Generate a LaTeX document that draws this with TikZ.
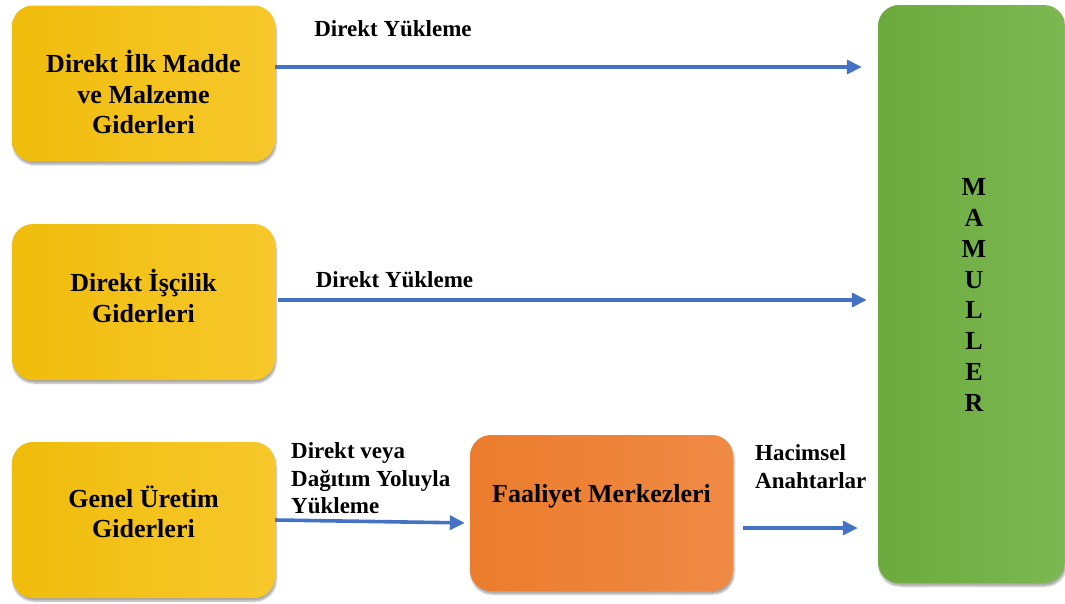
\documentclass[tikz,border=0pt]{standalone}
\usepackage{fontspec}
\setmainfont{Liberation Serif}
\usetikzlibrary{shadows.blur,arrows.meta}
\definecolor{arrowblue}{HTML}{4472C4}
\definecolor{yA}{HTML}{D6A400}
\definecolor{yB}{HTML}{EDB900}
\definecolor{yC}{HTML}{F8C930}
\definecolor{yD}{HTML}{FFEE80}
\definecolor{oA}{HTML}{DC6A18}
\definecolor{oB}{HTML}{EA7724}
\definecolor{oC}{HTML}{F08C48}
\definecolor{oD}{HTML}{F8C696}
\definecolor{gA}{HTML}{5A982A}
\definecolor{gB}{HTML}{66A534}
\definecolor{gC}{HTML}{7EBA56}
\definecolor{gD}{HTML}{B2E294}
\pgfdeclarehorizontalshading{yelshade}{100bp}{color(0bp)=(yA); color(7bp)=(yB); color(82bp)=(yC); color(100bp)=(yD)}
\pgfdeclarehorizontalshading{orshade}{100bp}{color(0bp)=(oA); color(7bp)=(oB); color(82bp)=(oC); color(100bp)=(oD)}
\pgfdeclarehorizontalshading{grshade}{100bp}{color(0bp)=(gA); color(7bp)=(gB); color(82bp)=(gC); color(100bp)=(gD)}
\tikzset{
  box/.style={rounded corners=21pt, minimum width=263pt, minimum height=156pt, inner sep=0pt,
    blur shadow={shadow xshift=1pt, shadow yshift=-3pt, shadow blur steps=6, shadow opacity=35}},
  boxtext/.style={font=\bfseries\fontsize{26}{30.5}\selectfont, align=center, inner sep=0pt},
  lbl/.style={font=\bfseries\fontsize{23}{27.5}\selectfont, inner sep=0pt},
  arr/.style={draw=arrowblue, line width=3.6pt, -{Triangle[length=15pt,width=14pt]}},
}
\begin{document}
\begin{tikzpicture}[x=1pt,y=-1pt]
\useasboundingbox (0,0) rectangle (1065,603);
% boxes
\node[box, shading=yelshade] (b1) at (143.5,83.5) {};
\node[box, shading=yelshade] (b2) at (143.5,302) {};
\node[box, shading=yelshade] (b3) at (143.5,520) {};
\node[box, shading=orshade] (f) at (601.5,513) {};
\node[box, shading=grshade, minimum width=187pt, minimum height=578pt] (m) at (971.5,294) {};
% box texts
\node[boxtext] (t1) at (143.5,92) {Direkt İlk Madde\\ve Malzeme\\Giderleri};
\node[boxtext] (t2) at (143.5,296) {Direkt İşçilik\\Giderleri};
\node[boxtext] (t3) at (143.5,512) {Genel Üretim\\Giderleri};
\node[boxtext] (tf) at (601.5,496) {Faaliyet Merkezleri};
\node[font=\bfseries\fontsize{26}{30.9}\selectfont, align=center, inner sep=0pt] (tm) at (974,295) {M\\A\\M\\U\\L\\L\\E\\R};
% labels
\node[lbl] (l1) at (393,29) {Direkt Yükleme};
\node[lbl] (l2) at (394.5,280) {Direkt Yükleme};
\node[lbl, align=left, anchor=north west] (l3) at (291,442.5) {Direkt veya\\Dağıtım Yoluyla\\Yükleme};
\node[lbl, align=left, anchor=north west] (l4) at (755,444.5) {Hacimsel\\Anahtarlar};
% arrows
\coordinate (a1s) at ([yshift=16.5pt]b1.east);
\coordinate (a2s) at ([yshift=2pt]b2.east);
\coordinate (a3e) at ([yshift=-10pt]f.west);
\coordinate (a4s) at ([yshift=-15pt]f.east);
\draw[arr, shorten >=16pt] (a1s) -- (a1s -| m.west);
\draw[arr, shorten <=3pt, shorten >=11pt] (a2s) -- (a2s -| m.west);
\draw[arr, shorten >=5pt] (b3.east) -- (a3e);
\draw[arr, shorten <=10pt, shorten >=20pt] (a4s) -- (a4s -| m.west);
\end{tikzpicture}
\end{document}
